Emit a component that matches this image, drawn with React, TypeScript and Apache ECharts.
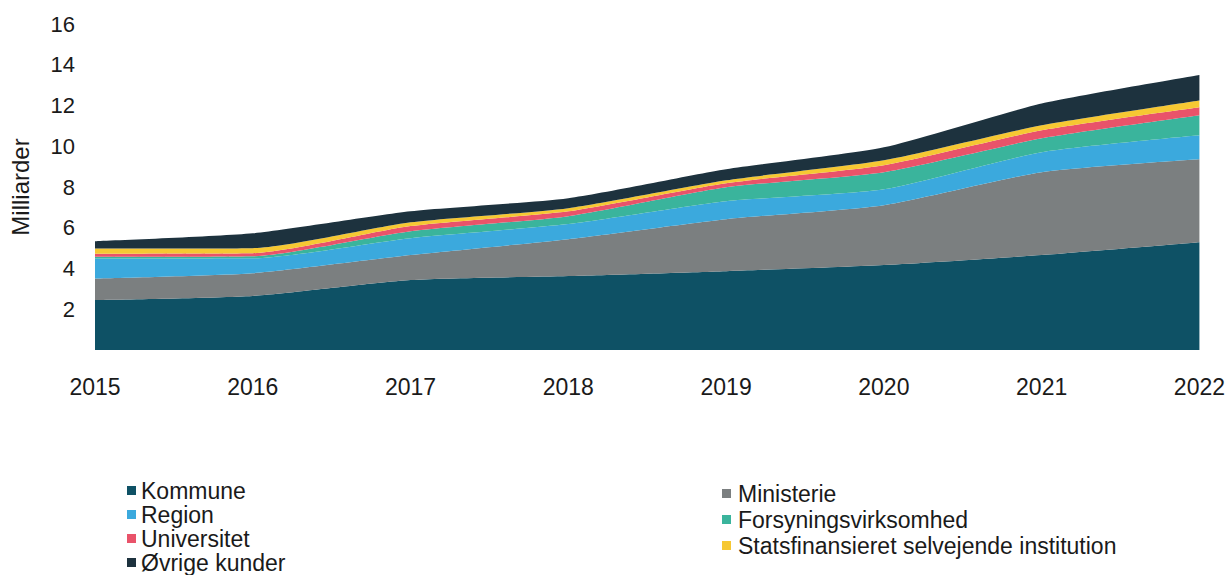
import React, { useEffect, useRef } from "react";
import * as echarts from "echarts";

const years = ["2015", "2016", "2017", "2018", "2019", "2020", "2021", "2022"];

const kommune = [2.45, 2.65, 3.43, 3.63, 3.87, 4.17, 4.66, 5.29];
const ministerie = [1.06, 1.12, 1.23, 1.81, 2.55, 2.94, 4.07, 4.07];
const region = [0.98, 0.73, 0.83, 0.74, 0.88, 0.78, 0.98, 1.18];
const forsyning = [0.08, 0.1, 0.34, 0.39, 0.69, 0.84, 0.68, 0.98];
const universitet = [0.16, 0.15, 0.25, 0.24, 0.2, 0.34, 0.39, 0.39];
const statsfin = [0.25, 0.25, 0.19, 0.15, 0.14, 0.24, 0.25, 0.34];
const oevrige = [0.36, 0.73, 0.54, 0.49, 0.54, 0.64, 1.07, 1.25];

const yTicks = [0, 2, 4, 6, 8, 10, 12, 14, 16];

const seriesDefs = [
  { name: "Kommune", data: kommune, color: "#0e5165" },
  { name: "Ministerie", data: ministerie, color: "#7b7f80" },
  { name: "Region", data: region, color: "#3ba9dd" },
  { name: "Forsyningsvirksomhed", data: forsyning, color: "#3ab49c" },
  { name: "Universitet", data: universitet, color: "#e9536a" },
  { name: "Statsfinansieret selvejende institution", data: statsfin, color: "#f6c833" },
  { name: "Øvrige kunder", data: oevrige, color: "#1d323e" },
];

const FONT = "'Liberation Sans', Arial, sans-serif";

export default function App() {
  const ref = useRef<HTMLDivElement>(null);
  useEffect(() => {
    if (!ref.current) return;
    const chart = echarts.init(ref.current, undefined, { renderer: "svg" });
    chart.setOption({
      animation: false,
      backgroundColor: "#ffffff",
      textStyle: { fontFamily: FONT },
      grid: { left: 90, right: 28, top: 24, height: 326 },
      legend: [
        {
          orient: "vertical",
          left: 127,
          top: 479,
          height: 120,
          padding: 0,
          itemGap: 1,
          itemWidth: 9,
          itemHeight: 9,
          icon: "rect",
          textStyle: { fontFamily: FONT, fontSize: 23, color: "#1a1a1a", lineHeight: 23, padding: [0, 0, 0, 0] },
          data: ["Kommune", "Region", "Universitet", "Øvrige kunder"],
        },
        {
          orient: "vertical",
          left: 722,
          top: 482,
          height: 120,
          padding: 0,
          itemGap: 3,
          itemWidth: 9,
          itemHeight: 9,
          icon: "rect",
          textStyle: { fontFamily: FONT, fontSize: 23, color: "#1a1a1a", lineHeight: 23, padding: [0, 0, 0, 2] },
          data: ["Ministerie", "Forsyningsvirksomhed", "Statsfinansieret selvejende institution"],
        },
      ],
      xAxis: {
        type: "category",
        data: years,
        boundaryGap: false,
        axisLine: { show: false },
        axisTick: { show: false },
        axisLabel: { fontFamily: FONT, fontSize: 23, color: "#1a1a1a", margin: 25 },
      },
      yAxis: {
        type: "value",
        min: 0,
        max: 16,
        interval: 2,
        name: "Milliarder",
        nameLocation: "middle",
        nameRotate: 90,
        nameGap: 63,
        nameTextStyle: { fontFamily: FONT, fontSize: 24, color: "#1a1a1a" },
        axisLine: { show: false },
        axisTick: { show: false },
        splitLine: { show: false },
        axisLabel: {
          fontFamily: FONT,
          fontSize: 22,
          color: "#1a1a1a",
          margin: 20,
          formatter: (v: number) => (yTicks.includes(v) && v !== 0 ? String(v) : ""),
        },
      },
      series: seriesDefs.map((s) => ({
        name: s.name,
        type: "line",
        stack: "total",
        data: s.data,
        smooth: 0.2,
        showSymbol: false,
        symbol: "none",
        lineStyle: { width: 0 },
        itemStyle: { color: s.color },
        areaStyle: { color: s.color, opacity: 1 },
      })),
    });
    return () => chart.dispose();
  }, []);
  return (
    <div
      ref={ref}
      style={{ position: "fixed", left: 0, top: 0, width: 1228, height: 575 }}
    />
  );
}
